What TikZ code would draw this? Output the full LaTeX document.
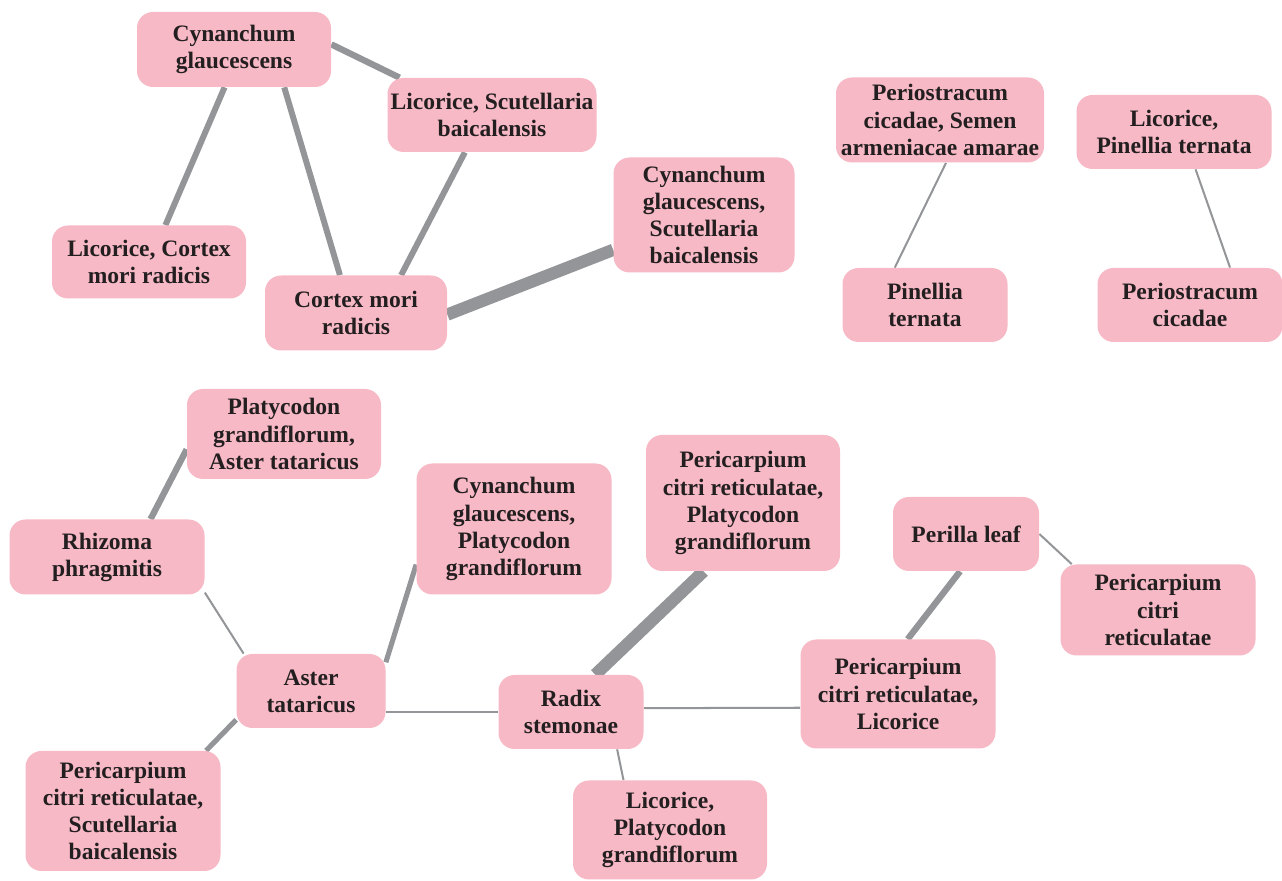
\documentclass[tikz,border=0pt]{standalone}
\usepackage{fontspec}
\setmainfont{Liberation Serif}
\usepackage{xcolor}
\usepackage{tikz}
\usetikzlibrary{backgrounds}

\definecolor{herbpink}{HTML}{F7B9C5}
\definecolor{linkgray}{HTML}{939598}
\definecolor{herbtext}{HTML}{231F20}

\begin{document}
\begin{tikzpicture}[
					herb/.style={rectangle, fill=herbpink, rounded corners=0.32cm, inner sep=0pt,
						minimum width=3.88cm, minimum height=1.48cm, align=center,
						text=herbtext, font=\fontsize{13.4}{15.4}\selectfont\bfseries},
					link/.style={draw=linkgray, line width=1.15pt},
					midlink/.style={draw=linkgray, line width=2.9pt},
					heavylink/.style={draw=linkgray, line width=3.6pt},
					boldlink/.style={draw=linkgray, line width=7pt}
					]
					\useasboundingbox (0,0) rectangle (25.64,17.62);
					
					% --- Top left cluster ---
					\node[herb, minimum height=1.50cm] (cg) at (4.68,16.63) {Cynanchum\\ glaucescens};
					\node[herb, minimum width=4.18cm] (lsb) at (9.84,15.32) {Licorice, Scutellaria\\ baicalensis};
					\node[herb, minimum width=3.62cm, minimum height=2.30cm] (cgsb) at (14.08,13.32) {Cynanchum\\ glaucescens,\\ Scutellaria\\ baicalensis};
					\node[herb, minimum height=1.46cm] (lcmr) at (2.98,12.38) {Licorice, Cortex\\ mori radicis};
					\node[herb, minimum width=3.64cm, minimum height=1.50cm] (cmr) at (7.12,11.36) {Cortex mori\\ radicis};
					
					% --- Top right pairs ---
					\node[herb, minimum width=4.16cm, minimum height=1.70cm] (pcsa) at (18.80,15.22) {Periostracum\\ cicadae, Semen\\ armeniacae amarae};
					\node[herb, minimum width=3.30cm] (pt) at (18.50,11.52) {Pinellia\\ ternata};
					\node[herb, minimum width=3.90cm] (lpt) at (23.48,14.98) {Licorice,\\ Pinellia ternata};
					\node[herb, minimum width=3.70cm] (pc) at (23.80,11.52) {Periostracum\\ cicadae};
					
					% --- Bottom cluster ---
					\node[herb, minimum height=1.80cm] (pgat) at (5.68,8.94) {Platycodon\\ grandiflorum,\\ Aster tataricus};
					\node[herb, minimum width=3.90cm, minimum height=1.50cm] (rp) at (2.14,6.48) {Rhizoma\\ phragmitis};
					\node[herb, minimum width=3.90cm, minimum height=2.62cm] (cgpg) at (10.28,7.04) {Cynanchum\\ glaucescens,\\ Platycodon\\ grandiflorum};
					\node[herb, minimum height=2.72cm] (pcpg) at (14.86,7.56) {Pericarpium\\ citri reticulatae,\\ Platycodon\\ grandiflorum};
					\node[herb, minimum width=2.92cm] (pl) at (19.32,6.94) {Perilla leaf};
					\node[herb, minimum width=3.90cm, minimum height=1.82cm] (pcr) at (23.16,5.42) {Pericarpium\\ citri\\ reticulatae};
					\node[herb, minimum width=2.98cm] (at) at (6.22,3.80) {Aster\\ tataricus};
					\node[herb, minimum width=2.90cm] (rs) at (11.42,3.38) {Radix\\ stemonae};
					\node[herb, minimum width=3.90cm, minimum height=2.18cm] (pcl) at (17.96,3.74) {Pericarpium\\ citri reticulatae,\\ Licorice};
					\node[herb, minimum width=3.90cm, minimum height=2.40cm] (pcsb) at (2.46,1.40) {Pericarpium\\ citri reticulatae,\\ Scutellaria\\ baicalensis};
					\node[herb, minimum height=1.98cm] (lpg) at (13.40,1.02) {Licorice,\\ Platycodon\\ grandiflorum};
					
					% --- Connectors (behind the boxes) ---
					\begin{pgfonlayer}{background}
						\draw[heavylink] (cg.3) -- (lsb.158);
						\draw[midlink, line width=3.4pt] (cg.256) -- (lcmr.66);
						\draw[midlink, line width=3.4pt] (cg.-37) -- (cmr.113);
						\draw[midlink, line width=3.4pt] (lsb.234) -- (cmr.40);
						\draw[boldlink] (cmr.-1) -- (cgsb.201);
						\draw[link] (pcsa.278) -- (pt.129);
						\draw[link] (lpt.300) -- (pc.43);
						\draw[heavylink] (pgat.189) -- (rp.41);
						\draw[link] (rp.340) -- (at.151);
						\draw[midlink] (at.21) -- (cgpg.200);
						\draw[midlink] (at.201) -- (pcsb.36);
						\draw[link] (at.east |- rs.west) -- (rs.west);
						\draw[boldlink] (rs.57) -- (pcpg.240);
						\draw[link] (rs.321) -- (lpg.133);
						\draw[link] (rs.3) -- (pcl.188);
						\draw[link] (pl.east) -- (pcr.152);
						\draw[heavylink] (pl.261) -- (pcl.80);
					\end{pgfonlayer}
				\end{tikzpicture}
\end{document}
